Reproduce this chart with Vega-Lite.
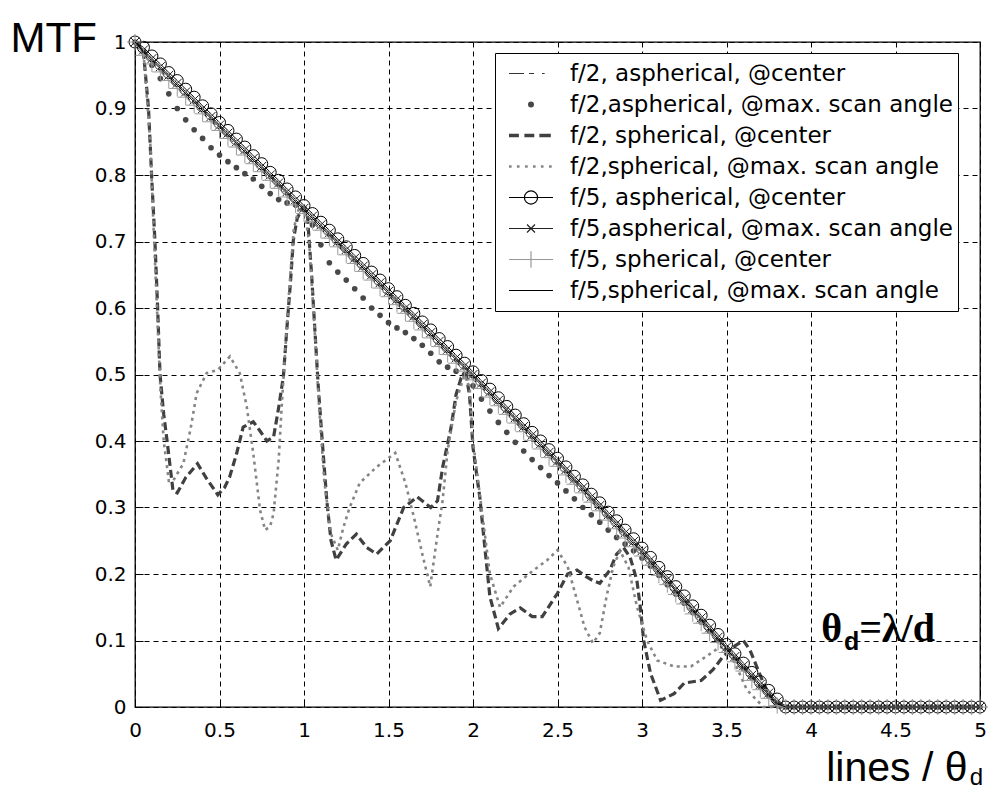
{
  "$schema": "https://vega.github.io/schema/vega-lite/v6.json",
  "width": 845,
  "height": 665,
  "autosize": {"type": "none"},
  "padding": {"left": 135, "top": 42, "right": 11, "bottom": 84},
  "background": "white",
  "config": {
    "view": {"stroke": "black", "strokeWidth": 1.3},
    "mark": {"invalid": "filter"},
    "axis": {
      "grid": true, "gridColor": "black", "gridDash": [5, 4], "gridWidth": 1, "gridOpacity": 1,
      "domain": false, "ticks": true, "tickColor": "black", "tickSize": -8, "tickWidth": 1,
      "labelFont": "DejaVu Sans", "labelFontSize": 20, "labelColor": "black",
      "labelFlush": false, "labelOverlap": false,
      "titleFont": "Liberation Sans", "titleFontWeight": "normal", "titleColor": "black"
    }
  },
  "datasets": {
    "diag": [
      {"x":0.00,"a":1.000,"b":1.000,"e":1.000,"f":1.000,"g":1.000,"h":1.000},
      {"x":0.05,"a":0.982,"b":0.985,"e":0.992,"f":0.988,"g":0.980,"h":0.985},
      {"x":0.10,"a":0.969,"b":0.965,"e":0.979,"f":0.975,"g":0.967,"h":0.972},
      {"x":0.15,"a":0.957,"b":0.945,"e":0.967,"f":0.963,"g":0.955,"h":0.960},
      {"x":0.20,"a":0.944,"b":0.922,"e":0.954,"f":0.950,"g":0.942,"h":0.947},
      {"x":0.25,"a":0.932,"b":0.900,"e":0.942,"f":0.938,"g":0.930,"h":0.935},
      {"x":0.30,"a":0.919,"b":0.883,"e":0.929,"f":0.925,"g":0.917,"h":0.922},
      {"x":0.35,"a":0.907,"b":0.868,"e":0.917,"f":0.913,"g":0.905,"h":0.910},
      {"x":0.40,"a":0.894,"b":0.855,"e":0.904,"f":0.900,"g":0.892,"h":0.897},
      {"x":0.45,"a":0.882,"b":0.841,"e":0.892,"f":0.888,"g":0.880,"h":0.885},
      {"x":0.50,"a":0.869,"b":0.830,"e":0.879,"f":0.875,"g":0.867,"h":0.872},
      {"x":0.55,"a":0.857,"b":0.820,"e":0.867,"f":0.863,"g":0.855,"h":0.860},
      {"x":0.60,"a":0.844,"b":0.811,"e":0.854,"f":0.850,"g":0.842,"h":0.847},
      {"x":0.65,"a":0.832,"b":0.802,"e":0.842,"f":0.838,"g":0.830,"h":0.835},
      {"x":0.70,"a":0.819,"b":0.794,"e":0.829,"f":0.825,"g":0.817,"h":0.822},
      {"x":0.75,"a":0.807,"b":0.783,"e":0.817,"f":0.813,"g":0.805,"h":0.810},
      {"x":0.80,"a":0.794,"b":0.772,"e":0.804,"f":0.800,"g":0.792,"h":0.797},
      {"x":0.85,"a":0.782,"b":0.763,"e":0.792,"f":0.788,"g":0.780,"h":0.785},
      {"x":0.90,"a":0.769,"b":0.758,"e":0.779,"f":0.775,"g":0.767,"h":0.772},
      {"x":0.95,"a":0.757,"b":0.755,"e":0.767,"f":0.763,"g":0.755,"h":0.760},
      {"x":1.00,"a":0.744,"b":0.750,"e":0.754,"f":0.750,"g":0.742,"h":0.747},
      {"x":1.05,"a":0.732,"b":0.725,"e":0.742,"f":0.738,"g":0.730,"h":0.735},
      {"x":1.10,"a":0.719,"b":0.695,"e":0.729,"f":0.725,"g":0.717,"h":0.722},
      {"x":1.15,"a":0.707,"b":0.668,"e":0.717,"f":0.713,"g":0.705,"h":0.710},
      {"x":1.20,"a":0.694,"b":0.654,"e":0.704,"f":0.700,"g":0.692,"h":0.697},
      {"x":1.25,"a":0.682,"b":0.642,"e":0.692,"f":0.688,"g":0.680,"h":0.685},
      {"x":1.30,"a":0.669,"b":0.629,"e":0.679,"f":0.675,"g":0.667,"h":0.672},
      {"x":1.35,"a":0.657,"b":0.615,"e":0.667,"f":0.663,"g":0.655,"h":0.660},
      {"x":1.40,"a":0.644,"b":0.600,"e":0.654,"f":0.650,"g":0.642,"h":0.647},
      {"x":1.45,"a":0.632,"b":0.589,"e":0.642,"f":0.638,"g":0.630,"h":0.635},
      {"x":1.50,"a":0.619,"b":0.578,"e":0.629,"f":0.625,"g":0.617,"h":0.622},
      {"x":1.55,"a":0.607,"b":0.570,"e":0.617,"f":0.613,"g":0.605,"h":0.610},
      {"x":1.60,"a":0.594,"b":0.563,"e":0.604,"f":0.600,"g":0.592,"h":0.597},
      {"x":1.65,"a":0.582,"b":0.554,"e":0.592,"f":0.588,"g":0.580,"h":0.585},
      {"x":1.70,"a":0.569,"b":0.544,"e":0.579,"f":0.575,"g":0.567,"h":0.572},
      {"x":1.75,"a":0.557,"b":0.532,"e":0.567,"f":0.563,"g":0.555,"h":0.560},
      {"x":1.80,"a":0.544,"b":0.519,"e":0.554,"f":0.550,"g":0.542,"h":0.547},
      {"x":1.85,"a":0.532,"b":0.511,"e":0.542,"f":0.538,"g":0.530,"h":0.535},
      {"x":1.90,"a":0.519,"b":0.505,"e":0.529,"f":0.525,"g":0.517,"h":0.522},
      {"x":1.95,"a":0.507,"b":0.500,"e":0.517,"f":0.513,"g":0.505,"h":0.510},
      {"x":2.00,"a":0.494,"b":0.483,"e":0.504,"f":0.500,"g":0.492,"h":0.497},
      {"x":2.05,"a":0.481,"b":0.463,"e":0.491,"f":0.487,"g":0.479,"h":0.484},
      {"x":2.10,"a":0.468,"b":0.445,"e":0.478,"f":0.474,"g":0.466,"h":0.471},
      {"x":2.15,"a":0.455,"b":0.428,"e":0.465,"f":0.461,"g":0.453,"h":0.458},
      {"x":2.20,"a":0.442,"b":0.413,"e":0.452,"f":0.448,"g":0.440,"h":0.445},
      {"x":2.25,"a":0.429,"b":0.398,"e":0.439,"f":0.435,"g":0.427,"h":0.432},
      {"x":2.30,"a":0.416,"b":0.385,"e":0.426,"f":0.422,"g":0.414,"h":0.419},
      {"x":2.35,"a":0.403,"b":0.372,"e":0.413,"f":0.409,"g":0.401,"h":0.406},
      {"x":2.40,"a":0.390,"b":0.360,"e":0.400,"f":0.396,"g":0.388,"h":0.393},
      {"x":2.45,"a":0.377,"b":0.348,"e":0.387,"f":0.383,"g":0.375,"h":0.380},
      {"x":2.50,"a":0.364,"b":0.337,"e":0.374,"f":0.370,"g":0.362,"h":0.367},
      {"x":2.55,"a":0.351,"b":0.325,"e":0.361,"f":0.357,"g":0.349,"h":0.354},
      {"x":2.60,"a":0.337,"b":0.313,"e":0.347,"f":0.343,"g":0.335,"h":0.340},
      {"x":2.65,"a":0.324,"b":0.300,"e":0.334,"f":0.330,"g":0.322,"h":0.327},
      {"x":2.70,"a":0.310,"b":0.289,"e":0.320,"f":0.316,"g":0.308,"h":0.313},
      {"x":2.75,"a":0.297,"b":0.278,"e":0.307,"f":0.303,"g":0.295,"h":0.300},
      {"x":2.80,"a":0.283,"b":0.266,"e":0.293,"f":0.289,"g":0.281,"h":0.286},
      {"x":2.85,"a":0.270,"b":0.255,"e":0.280,"f":0.276,"g":0.268,"h":0.273},
      {"x":2.90,"a":0.256,"b":0.245,"e":0.266,"f":0.262,"g":0.254,"h":0.259},
      {"x":2.95,"a":0.243,"b":0.235,"e":0.253,"f":0.249,"g":0.241,"h":0.246},
      {"x":3.00,"a":0.229,"b":0.224,"e":0.239,"f":0.235,"g":0.227,"h":0.232},
      {"x":3.05,"a":0.215,"b":0.212,"e":0.225,"f":0.221,"g":0.213,"h":0.218},
      {"x":3.10,"a":0.200,"b":0.198,"e":0.210,"f":0.206,"g":0.198,"h":0.203},
      {"x":3.15,"a":0.186,"b":0.184,"e":0.196,"f":0.192,"g":0.184,"h":0.189},
      {"x":3.20,"a":0.171,"b":0.170,"e":0.181,"f":0.177,"g":0.169,"h":0.174},
      {"x":3.25,"a":0.157,"b":0.156,"e":0.167,"f":0.163,"g":0.155,"h":0.160},
      {"x":3.30,"a":0.142,"b":0.142,"e":0.152,"f":0.148,"g":0.140,"h":0.145},
      {"x":3.35,"a":0.128,"b":0.128,"e":0.138,"f":0.134,"g":0.126,"h":0.131},
      {"x":3.40,"a":0.113,"b":0.114,"e":0.123,"f":0.119,"g":0.111,"h":0.116},
      {"x":3.45,"a":0.099,"b":0.100,"e":0.109,"f":0.105,"g":0.097,"h":0.102},
      {"x":3.50,"a":0.084,"b":0.086,"e":0.094,"f":0.090,"g":0.082,"h":0.087},
      {"x":3.55,"a":0.070,"b":0.072,"e":0.080,"f":0.076,"g":0.068,"h":0.073},
      {"x":3.60,"a":0.056,"b":0.058,"e":0.066,"f":0.062,"g":0.054,"h":0.059},
      {"x":3.65,"a":0.042,"b":0.044,"e":0.052,"f":0.048,"g":0.040,"h":0.045},
      {"x":3.70,"a":0.028,"b":0.030,"e":0.038,"f":0.034,"g":0.026,"h":0.031},
      {"x":3.75,"a":0.015,"b":0.017,"e":0.025,"f":0.021,"g":0.013,"h":0.018},
      {"x":3.80,"a":0.003,"b":0.005,"e":0.012,"f":0.008,"g":0.002,"h":0.005},
      {"x":3.85,"a":0,"b":0,"e":0,"f":0,"g":0,"h":0},
      {"x":3.90,"a":0,"b":0,"e":0,"f":0,"g":0,"h":0},
      {"x":3.95,"a":0,"b":0,"e":0,"f":0,"g":0,"h":0},
      {"x":4.00,"a":0,"b":0,"e":0,"f":0,"g":0,"h":0},
      {"x":4.05,"a":0,"b":0,"e":0,"f":0,"g":0,"h":0},
      {"x":4.10,"a":0,"b":0,"e":0,"f":0,"g":0,"h":0},
      {"x":4.15,"a":0,"b":0,"e":0,"f":0,"g":0,"h":0},
      {"x":4.20,"a":0,"b":0,"e":0,"f":0,"g":0,"h":0},
      {"x":4.25,"a":0,"b":0,"e":0,"f":0,"g":0,"h":0},
      {"x":4.30,"a":0,"b":0,"e":0,"f":0,"g":0,"h":0},
      {"x":4.35,"a":0,"b":0,"e":0,"f":0,"g":0,"h":0},
      {"x":4.40,"a":0,"b":0,"e":0,"f":0,"g":0,"h":0},
      {"x":4.45,"a":0,"b":0,"e":0,"f":0,"g":0,"h":0},
      {"x":4.50,"a":0,"b":0,"e":0,"f":0,"g":0,"h":0},
      {"x":4.55,"a":0,"b":0,"e":0,"f":0,"g":0,"h":0},
      {"x":4.60,"a":0,"b":0,"e":0,"f":0,"g":0,"h":0},
      {"x":4.65,"a":0,"b":0,"e":0,"f":0,"g":0,"h":0},
      {"x":4.70,"a":0,"b":0,"e":0,"f":0,"g":0,"h":0},
      {"x":4.75,"a":0,"b":0,"e":0,"f":0,"g":0,"h":0},
      {"x":4.80,"a":0,"b":0,"e":0,"f":0,"g":0,"h":0},
      {"x":4.85,"a":0,"b":0,"e":0,"f":0,"g":0,"h":0},
      {"x":4.90,"a":0,"b":0,"e":0,"f":0,"g":0,"h":0},
      {"x":4.95,"a":0,"b":0,"e":0,"f":0,"g":0,"h":0},
      {"x":5.00,"a":0,"b":0,"e":0,"f":0,"g":0,"h":0}
    ],
    "osc": [
      {"x":0,"c":1.0},{"x":0.05,"c":0.985},{"x":0.08,"c":0.90},{"x":0.1,"c":0.79},{"x":0.118,"c":0.70},
      {"x":0.134,"c":0.60},{"x":0.148,"c":0.50},{"x":0.17,"c":0.44},{"x":0.19,"c":0.40},{"x":0.225,"c":0.325},
      {"x":0.25,"c":0.322},{"x":0.3,"c":0.345},{"x":0.37,"c":0.366},{"x":0.42,"c":0.345},{"x":0.49,"c":0.319},
      {"x":0.53,"c":0.33},{"x":0.56,"c":0.346},{"x":0.6,"c":0.38},{"x":0.64,"c":0.421},{"x":0.7,"c":0.429},
      {"x":0.74,"c":0.415},{"x":0.78,"c":0.40},{"x":0.82,"c":0.406},{"x":0.85,"c":0.45},{"x":0.878,"c":0.497},
      {"x":0.898,"c":0.567},{"x":0.918,"c":0.632},{"x":0.937,"c":0.702},{"x":0.96,"c":0.735},{"x":0.99,"c":0.75},
      {"x":1.02,"c":0.74},{"x":1.045,"c":0.65},{"x":1.066,"c":0.56},{"x":1.085,"c":0.48},{"x":1.105,"c":0.41},
      {"x":1.135,"c":0.31},{"x":1.16,"c":0.25},{"x":1.19,"c":0.221},{"x":1.25,"c":0.245},{"x":1.31,"c":0.26},
      {"x":1.37,"c":0.24},{"x":1.43,"c":0.23},{"x":1.51,"c":0.25},{"x":1.59,"c":0.30},{"x":1.67,"c":0.316},
      {"x":1.75,"c":0.30},{"x":1.79,"c":0.31},{"x":1.82,"c":0.36},{"x":1.87,"c":0.42},{"x":1.9,"c":0.47},
      {"x":1.93,"c":0.495},{"x":1.96,"c":0.50},{"x":1.98,"c":0.467},{"x":2.0,"c":0.39},{"x":2.04,"c":0.316},
      {"x":2.07,"c":0.24},{"x":2.1,"c":0.166},{"x":2.15,"c":0.118},{"x":2.22,"c":0.14},{"x":2.28,"c":0.149},
      {"x":2.35,"c":0.136},{"x":2.41,"c":0.136},{"x":2.5,"c":0.171},{"x":2.56,"c":0.20},{"x":2.615,"c":0.206},
      {"x":2.67,"c":0.196},{"x":2.71,"c":0.19},{"x":2.75,"c":0.186},{"x":2.81,"c":0.206},{"x":2.85,"c":0.23},
      {"x":2.89,"c":0.24},{"x":2.93,"c":0.225},{"x":2.97,"c":0.19},{"x":2.99,"c":0.15},{"x":3.01,"c":0.10},
      {"x":3.05,"c":0.051},{"x":3.11,"c":0.01},{"x":3.19,"c":0.02},{"x":3.25,"c":0.036},{"x":3.35,"c":0.04},
      {"x":3.42,"c":0.056},{"x":3.48,"c":0.076},{"x":3.55,"c":0.092},{"x":3.6,"c":0.10},{"x":3.64,"c":0.085},
      {"x":3.68,"c":0.06},{"x":3.72,"c":0.035},{"x":3.76,"c":0.015},{"x":3.8,"c":0},{"x":5,"c":0},
      {"x":0,"d":1.0},{"x":0.05,"d":0.985},{"x":0.09,"d":0.85},{"x":0.11,"d":0.72},{"x":0.13,"d":0.60},
      {"x":0.15,"d":0.48},{"x":0.17,"d":0.40},{"x":0.2,"d":0.34},{"x":0.225,"d":0.34},{"x":0.26,"d":0.355},
      {"x":0.286,"d":0.366},{"x":0.33,"d":0.42},{"x":0.365,"d":0.472},{"x":0.424,"d":0.502},{"x":0.49,"d":0.507},
      {"x":0.562,"d":0.527},{"x":0.62,"d":0.502},{"x":0.661,"d":0.452},{"x":0.7,"d":0.381},{"x":0.74,"d":0.296},
      {"x":0.77,"d":0.266},{"x":0.8,"d":0.272},{"x":0.82,"d":0.291},{"x":0.85,"d":0.371},{"x":0.868,"d":0.452},
      {"x":0.888,"d":0.532},{"x":0.914,"d":0.632},{"x":0.94,"d":0.72},{"x":0.97,"d":0.75},{"x":1.0,"d":0.75},
      {"x":1.03,"d":0.70},{"x":1.06,"d":0.58},{"x":1.09,"d":0.45},{"x":1.12,"d":0.34},{"x":1.16,"d":0.26},
      {"x":1.2,"d":0.236},{"x":1.233,"d":0.27},{"x":1.27,"d":0.30},{"x":1.33,"d":0.337},{"x":1.43,"d":0.361},
      {"x":1.54,"d":0.382},{"x":1.6,"d":0.337},{"x":1.65,"d":0.286},{"x":1.7,"d":0.23},{"x":1.747,"d":0.181},
      {"x":1.79,"d":0.26},{"x":1.82,"d":0.31},{"x":1.85,"d":0.386},{"x":1.9,"d":0.46},{"x":1.95,"d":0.50},
      {"x":1.98,"d":0.48},{"x":2.0,"d":0.40},{"x":2.05,"d":0.30},{"x":2.1,"d":0.20},{"x":2.16,"d":0.15},
      {"x":2.24,"d":0.181},{"x":2.36,"d":0.206},{"x":2.44,"d":0.221},{"x":2.5,"d":0.236},{"x":2.56,"d":0.211},
      {"x":2.61,"d":0.166},{"x":2.66,"d":0.12},{"x":2.71,"d":0.096},{"x":2.75,"d":0.111},{"x":2.79,"d":0.166},
      {"x":2.83,"d":0.211},{"x":2.87,"d":0.235},{"x":2.92,"d":0.21},{"x":2.97,"d":0.151},{"x":3.03,"d":0.10},
      {"x":3.09,"d":0.07},{"x":3.19,"d":0.061},{"x":3.29,"d":0.061},{"x":3.38,"d":0.076},{"x":3.46,"d":0.09},
      {"x":3.5,"d":0.09},{"x":3.56,"d":0.06},{"x":3.62,"d":0.026},{"x":3.68,"d":0.01},{"x":3.72,"d":0},
      {"x":5,"d":0}
    ],
    "keys": [
      {"s": "f/2, aspherical, @center"},
      {"s": "f/2,aspherical, @max. scan angle"},
      {"s": "f/2, spherical, @center"},
      {"s": "f/2,spherical, @max. scan angle"},
      {"s": "f/5, aspherical, @center"},
      {"s": "f/5,aspherical, @max. scan angle"},
      {"s": "f/5, spherical, @center"},
      {"s": "f/5,spherical, @max. scan angle"}
    ]
  },
  "encoding": {
    "x": {
      "field": "x", "type": "quantitative",
      "scale": {"domain": [0, 5], "nice": false, "zero": false},
      "axis": {
        "title": "lines / θ",
        "values": [0, 0.5, 1, 1.5, 2, 2.5, 3, 3.5, 4, 4.5, 5],
        "format": ".1~f", "labelPadding": 21,
        "titleFontSize": 41, "titleAngle": 0, "titleAlign": "right", "titleBaseline": "alphabetic",
        "titleX": 832, "titleY": 73
      }
    },
    "y": {
      "field": "v", "type": "quantitative",
      "scale": {"domain": [0, 1], "nice": false},
      "axis": {
        "title": "MTF",
        "values": [0, 0.1, 0.2, 0.3, 0.4, 0.5, 0.6, 0.7, 0.8, 0.9, 1],
        "format": ".1~f", "labelPadding": 17,
        "titleFontSize": 42, "titleAngle": 0, "titleAlign": "left", "titleBaseline": "alphabetic",
        "titleX": -125, "titleY": 9
      }
    }
  },
  "layer": [
    {
      "data": {"name": "diag"}, "transform": [{"fold": ["a"], "as": ["k", "v"]}],
      "mark": {"type": "line", "color": "#333333", "strokeWidth": 1, "strokeDash": [8, 4, 2, 4]}
    },
    {
      "data": {"name": "diag"}, "transform": [{"fold": ["b"], "as": ["k", "v"]}],
      "mark": {"type": "point", "filled": true, "shape": "circle", "size": 32, "color": "#484848", "opacity": 1}
    },
    {
      "data": {"name": "osc"}, "transform": [{"fold": ["c"], "as": ["k", "v"]}],
      "mark": {"type": "line", "color": "#404040", "strokeWidth": 3.2, "strokeDash": [8, 4]}
    },
    {
      "data": {"name": "osc"}, "transform": [{"fold": ["d"], "as": ["k", "v"]}],
      "mark": {"type": "line", "color": "#858585", "strokeWidth": 2.6, "strokeDash": [3, 4]}
    },
    {
      "data": {"name": "diag"}, "transform": [{"fold": ["e"], "as": ["k", "v"]}],
      "mark": {"type": "line", "color": "black", "strokeWidth": 1}
    },
    {
      "data": {"name": "diag"}, "transform": [{"fold": ["e"], "as": ["k", "v"]}],
      "mark": {"type": "point", "filled": false, "shape": "circle", "size": 144, "color": "black", "strokeWidth": 1, "opacity": 1}
    },
    {
      "data": {"name": "diag"}, "transform": [{"fold": ["f"], "as": ["k", "v"]}],
      "mark": {"type": "line", "color": "#222222", "strokeWidth": 1}
    },
    {
      "data": {"name": "diag"}, "transform": [{"fold": ["f"], "as": ["k", "v"]}],
      "mark": {"type": "point", "filled": false, "shape": "M-1,-1L1,1M-1,1L1,-1", "size": 81, "color": "#222222", "strokeWidth": 1, "opacity": 1}
    },
    {
      "data": {"name": "diag"}, "transform": [{"fold": ["g"], "as": ["k", "v"]}],
      "mark": {"type": "line", "color": "#999999", "strokeWidth": 1}
    },
    {
      "data": {"name": "diag"}, "transform": [{"fold": ["g"], "as": ["k", "v"]}],
      "mark": {"type": "point", "filled": false, "shape": "M-1,0L1,0M0,-1L0,1", "size": 256, "color": "#999999", "strokeWidth": 1, "opacity": 1}
    },
    {
      "data": {"name": "diag"}, "transform": [{"fold": ["h"], "as": ["k", "v"]}],
      "mark": {"type": "line", "color": "black", "strokeWidth": 1}
    },
    {
      "data": {"name": "keys"},
      "mark": {"type": "point", "filled": false, "opacity": 1},
      "encoding": {
        "shape": {
          "field": "s", "type": "nominal",
          "scale": {
            "domain": ["f/2, aspherical, @center", "f/2,aspherical, @max. scan angle", "f/2, spherical, @center", "f/2,spherical, @max. scan angle", "f/5, aspherical, @center", "f/5,aspherical, @max. scan angle", "f/5, spherical, @center", "f/5,spherical, @max. scan angle"],
            "range": [
              "M-1,0L-0.32,0M-0.09,0L0.14,0M0.5,0L0.62,0",
              "M0.11,0A0.11,0.11 0 1,1 -0.11,0A0.11,0.11 0 1,1 0.11,0M0.07,0A0.07,0.07 0 1,1 -0.07,0A0.07,0.07 0 1,1 0.07,0M0.03,0A0.03,0.03 0 1,1 -0.03,0A0.03,0.03 0 1,1 0.03,0",
              "M-1,-0.05L-0.55,-0.05M-0.3,-0.05L0.15,-0.05M0.38,-0.05L0.9,-0.05M-1,0L-0.55,0M-0.3,0L0.15,0M0.38,0L0.9,0M-1,0.05L-0.55,0.05M-0.3,0.05L0.15,0.05M0.38,0.05L0.9,0.05",
              "M-1,-0.03L-0.88,-0.03M-0.64,-0.03L-0.52,-0.03M-0.27,-0.03L-0.15,-0.03M0.09,-0.03L0.21,-0.03M0.45,-0.03L0.57,-0.03M0.82,-0.03L0.94,-0.03M-1,0.03L-0.88,0.03M-0.64,0.03L-0.52,0.03M-0.27,0.03L-0.15,0.03M0.09,0.03L0.21,0.03M0.45,0.03L0.57,0.03M0.82,0.03L0.94,0.03",
              "M-1,0L1,0M0.3,0A0.3,0.3 0 1,1 -0.3,0A0.3,0.3 0 1,1 0.3,0",
              "M-1,0L1,0M-0.18,-0.18L0.18,0.18M-0.18,0.18L0.18,-0.18",
              "M-1,0L1,0M0,-0.38L0,0.38",
              "M-1,0L1,0"
            ]
          },
          "legend": {
            "title": null, "orient": "none", "legendX": 360, "legendY": 11, "direction": "vertical",
            "fillColor": "white", "strokeColor": "black", "padding": 5,
            "symbolSize": 1936, "symbolStrokeWidth": 1.2, "symbolOpacity": 1, "symbolOffset": 8,
            "labelFont": "DejaVu Sans", "labelFontSize": 23, "labelColor": "black", "labelOffset": 16, "labelLimit": 600,
            "clipHeight": 31, "rowPadding": 0
          }
        },
        "color": {
          "field": "s", "type": "nominal",
          "scale": {
            "domain": ["f/2, aspherical, @center", "f/2,aspherical, @max. scan angle", "f/2, spherical, @center", "f/2,spherical, @max. scan angle", "f/5, aspherical, @center", "f/5,aspherical, @max. scan angle", "f/5, spherical, @center", "f/5,spherical, @max. scan angle"],
            "range": ["#333333", "#484848", "#404040", "#858585", "#000000", "#222222", "#999999", "#000000"]
          },
          "legend": {
            "title": null, "orient": "none", "legendX": 360, "legendY": 11, "direction": "vertical",
            "fillColor": "white", "strokeColor": "black", "padding": 5,
            "symbolSize": 1936, "symbolStrokeWidth": 1.2, "symbolOpacity": 1, "symbolOffset": 8,
            "labelFont": "DejaVu Sans", "labelFontSize": 23, "labelColor": "black", "labelOffset": 16, "labelLimit": 600,
            "clipHeight": 31, "rowPadding": 0
          }
        }
      }
    },
    {
      "data": {"values": [{"x": 4.06, "v": 0.1, "t": "θ"}]},
      "mark": {"type": "text", "font": "Liberation Serif", "fontWeight": "bold", "fontSize": 40, "align": "left", "baseline": "alphabetic", "color": "black"},
      "encoding": {"text": {"field": "t"}}
    },
    {
      "data": {"values": [{"x": 4.195, "v": 0.085, "t": "d"}]},
      "mark": {"type": "text", "font": "Liberation Sans", "fontWeight": "bold", "fontSize": 25, "align": "left", "baseline": "alphabetic", "color": "black"},
      "encoding": {"text": {"field": "t"}}
    },
    {
      "data": {"values": [{"x": 4.285, "v": 0.1, "t": "=λ/d"}]},
      "mark": {"type": "text", "font": "Liberation Serif", "fontWeight": "bold", "fontSize": 40, "align": "left", "baseline": "alphabetic", "color": "black"},
      "encoding": {"text": {"field": "t"}}
    },
    {
      "data": {"values": [{"x": 4.94, "v": -0.117, "t": "d"}]},
      "mark": {"type": "text", "font": "Liberation Sans", "fontSize": 24, "align": "left", "baseline": "alphabetic", "color": "black"},
      "encoding": {"text": {"field": "t"}}
    }
  ]
}
